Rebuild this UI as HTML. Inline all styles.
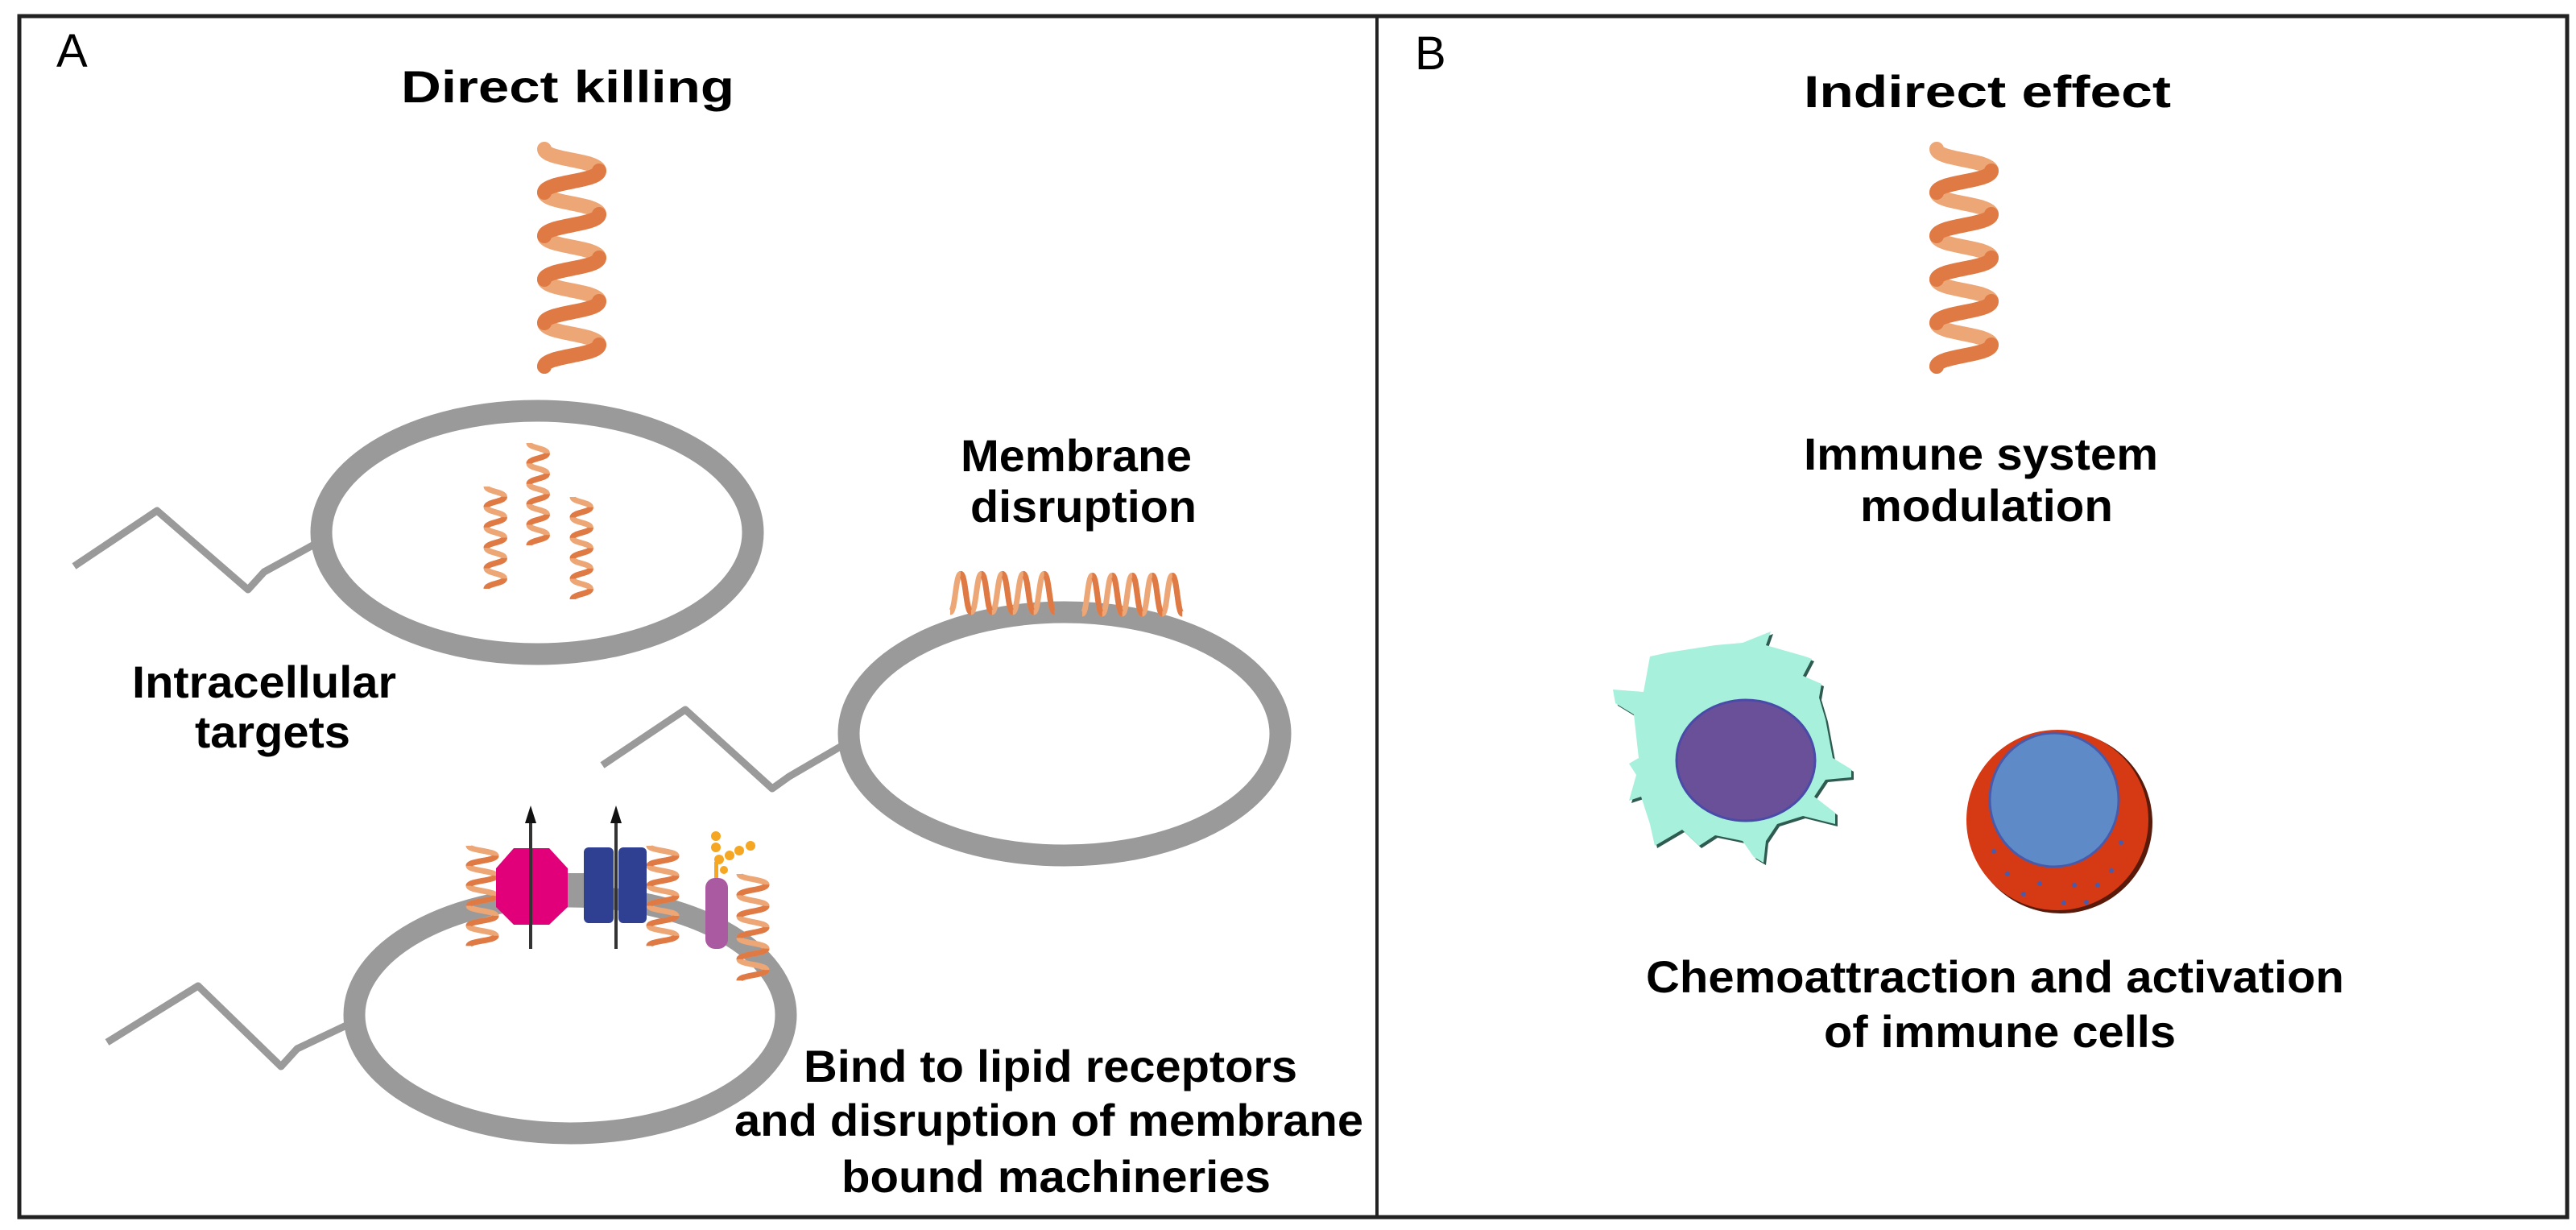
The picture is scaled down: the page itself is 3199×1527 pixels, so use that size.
<!DOCTYPE html>
<html><head><meta charset="utf-8"><style>
html,body{margin:0;padding:0;background:#fff}
svg{display:block}
text{font-family:"Liberation Sans",Arial,sans-serif;fill:#000}
.b{font-weight:bold;font-size:56px}
</style></head><body>
<svg width="3199" height="1527" viewBox="0 0 3199 1527" xmlns="http://www.w3.org/2000/svg">
<defs>
<g id="hx">
<path d="M0,0 c0,13.5 68,13.5 68,27 s-68,13.5 -68,27 s68,13.5 68,27 s-68,13.5 -68,27 s68,13.5 68,27 s-68,13.5 -68,27 s68,13.5 68,27 s-68,13.5 -68,27 s68,13.5 68,27 s-68,13.5 -68,27" fill="none" stroke="#eda676" stroke-width="18" vector-effect="non-scaling-stroke" stroke-linecap="round"/>
<path d="M68,27 c0,13.5 -68,13.5 -68,27 M68,81 c0,13.5 -68,13.5 -68,27 M68,135 c0,13.5 -68,13.5 -68,27 M68,189 c0,13.5 -68,13.5 -68,27 M68,243 c0,13.5 -68,13.5 -68,27" fill="none" stroke="#e07a45" stroke-width="18" vector-effect="non-scaling-stroke" stroke-linecap="round"/>
</g>
<g id="hs">
<path d="M0,0 c0,13.5 68,13.5 68,27 s-68,13.5 -68,27 s68,13.5 68,27 s-68,13.5 -68,27 s68,13.5 68,27 s-68,13.5 -68,27 s68,13.5 68,27 s-68,13.5 -68,27 s68,13.5 68,27 s-68,13.5 -68,27" fill="none" stroke="#eda676" stroke-width="7" vector-effect="non-scaling-stroke"/>
<path d="M68,27 c0,13.5 -68,13.5 -68,27 M68,81 c0,13.5 -68,13.5 -68,27 M68,135 c0,13.5 -68,13.5 -68,27 M68,189 c0,13.5 -68,13.5 -68,27 M68,243 c0,13.5 -68,13.5 -68,27" fill="none" stroke="#e07a45" stroke-width="7" vector-effect="non-scaling-stroke"/>
</g>
</defs>

<rect x="24" y="20" width="3164" height="1491" fill="none" stroke="#222" stroke-width="5"/>
<line x1="1710" y1="20" x2="1710" y2="1511" stroke="#222" stroke-width="4"/>

<text x="70" y="83" font-size="58">A</text>
<text x="1757" y="86" font-size="58">B</text>
<text class="b" x="498" y="127" textLength="414" lengthAdjust="spacingAndGlyphs" font-size="60">Direct killing</text>
<text class="b" x="2240" y="133" textLength="456" lengthAdjust="spacingAndGlyphs" font-size="60">Indirect effect</text>

<use href="#hx" transform="translate(676,185)"/>
<use href="#hx" transform="translate(2405,185)"/>

<path d="M92,703 L195,634 L308,732 L328,710 L392,675" fill="none" stroke="#9a9a9a" stroke-width="9" stroke-linejoin="round"/>
<ellipse cx="667" cy="661" rx="268" ry="151" fill="none" stroke="#9a9a9a" stroke-width="27"/>
<use href="#hs" transform="translate(604,604) scale(0.33,0.47)"/>
<use href="#hs" transform="translate(657,550) scale(0.33,0.47)"/>
<use href="#hs" transform="translate(711,617) scale(0.33,0.47)"/>

<path d="M748,950 L851,881 L959,979 L980,964 L1047,925" fill="none" stroke="#9a9a9a" stroke-width="9" stroke-linejoin="round"/>
<ellipse cx="1322" cy="911" rx="268" ry="151" fill="none" stroke="#9a9a9a" stroke-width="27"/>
<use href="#hs" transform="translate(1180,760) rotate(-90) scale(0.7,0.48)"/>
<use href="#hs" transform="translate(1344,762) rotate(-90) scale(0.7,0.46)"/>

<path d="M133,1294 L246,1224 L349,1324 L369,1302 L430,1273" fill="none" stroke="#9a9a9a" stroke-width="9" stroke-linejoin="round"/>
<ellipse cx="708" cy="1260" rx="268" ry="147" fill="none" stroke="#9a9a9a" stroke-width="27"/>
<rect x="700" y="1084" width="30" height="26" fill="#9a9a9a"/>
<use href="#hs" transform="translate(582,1050) scale(0.5,0.46)"/>
<use href="#hs" transform="translate(806,1050) scale(0.5,0.46)"/>
<use href="#hs" transform="translate(918,1085) scale(0.5,0.49)"/>
<polygon points="638,1053 682,1053 705,1078 705,1126 682,1148 638,1148 616,1126 616,1078" fill="#e2007a"/>
<rect x="725" y="1052" width="37" height="94" rx="6" fill="#2f3f92"/>
<rect x="768" y="1052" width="35" height="94" rx="6" fill="#2f3f92"/>
<rect x="876" y="1090" width="28" height="88" rx="12" fill="#a95aa0"/>
<g fill="#f5a623">
<rect x="887" y="1070" width="5" height="20"/>
<circle cx="889" cy="1038" r="6"/><circle cx="889" cy="1052" r="6"/><circle cx="893" cy="1067" r="6"/>
<circle cx="906" cy="1062" r="6"/><circle cx="918" cy="1056" r="6"/><circle cx="932" cy="1050" r="6"/><circle cx="899" cy="1080" r="5"/>
</g>
<g stroke="#333" stroke-width="4">
<line x1="659" y1="1178" x2="659" y2="1015"/>
<line x1="765" y1="1178" x2="765" y2="1015"/>
</g>
<polygon points="659,1000 652,1022 666,1022" fill="#111"/>
<polygon points="765,1000 758,1022 772,1022" fill="#111"/>

<text class="b" x="1193" y="585" textLength="287" lengthAdjust="spacingAndGlyphs">Membrane</text>
<text class="b" x="1205" y="648" textLength="281" lengthAdjust="spacingAndGlyphs">disruption</text>
<text class="b" x="164" y="866" textLength="328" lengthAdjust="spacingAndGlyphs">Intracellular</text>
<text class="b" x="242" y="928" textLength="193" lengthAdjust="spacingAndGlyphs">targets</text>
<text class="b" x="998" y="1343" textLength="613" lengthAdjust="spacingAndGlyphs">Bind to lipid receptors</text>
<text class="b" x="912" y="1410" textLength="781" lengthAdjust="spacingAndGlyphs">and disruption of membrane</text>
<text class="b" x="1045" y="1480" textLength="533" lengthAdjust="spacingAndGlyphs">bound machineries</text>

<text class="b" x="2240" y="583" textLength="440" lengthAdjust="spacingAndGlyphs">Immune system</text>
<text class="b" x="2310" y="647" textLength="314" lengthAdjust="spacingAndGlyphs">modulation</text>
<text class="b" x="2044" y="1232" textLength="867" lengthAdjust="spacingAndGlyphs">Chemoattraction and activation</text>
<text class="b" x="2265" y="1300" textLength="437" lengthAdjust="spacingAndGlyphs">of immune cells</text>

<g>
<path transform="translate(3,3)" d="M2199,784 L2193,801 L2242,815 L2250,818 L2239,839 L2262,849 L2259,866 L2267,893 L2276,941 L2299,955 L2299,965 L2267,968 L2253,989 L2279,1009 L2279,1023 L2239,1013 L2207,1023 L2193,1044 L2190,1071 L2178,1064 L2164,1044 L2130,1037 L2110,1050 L2089,1030 L2055,1050 L2049,1023 L2038,989 L2023,994 L2032,962 L2023,948 L2035,941 L2029,887 L2006,873 L2003,856 L2041,859 L2049,815 L2072,810 L2130,801 L2164,798 Z" fill="#2e5a50"/>
<path d="M2199,784 L2193,801 L2242,815 L2250,818 L2239,839 L2262,849 L2259,866 L2267,893 L2276,941 L2299,955 L2299,965 L2267,968 L2253,989 L2279,1009 L2279,1023 L2239,1013 L2207,1023 L2193,1044 L2190,1071 L2178,1064 L2164,1044 L2130,1037 L2110,1050 L2089,1030 L2055,1050 L2049,1023 L2038,989 L2023,994 L2032,962 L2023,948 L2035,941 L2029,887 L2006,873 L2003,856 L2041,859 L2049,815 L2072,810 L2130,801 L2164,798 Z" fill="#a6f0dc"/>
</g>
<ellipse cx="2168" cy="944" rx="86" ry="75" fill="#6a5099" stroke="#4a4aa8" stroke-width="3"/>

<ellipse cx="2559" cy="1021" rx="114" ry="113" fill="#5a1a0a"/>
<ellipse cx="2555" cy="1018" rx="113" ry="112" fill="#d63a14"/>
<ellipse cx="2551" cy="993" rx="80" ry="83" fill="#5e8bc8" stroke="#4a5aaa" stroke-width="3"/>
<g fill="#4a5aaa">
<circle cx="2476" cy="1057" r="3"/><circle cx="2493" cy="1085" r="3"/><circle cx="2533" cy="1097" r="3"/>
<circle cx="2576" cy="1099" r="3"/><circle cx="2605" cy="1099" r="3"/><circle cx="2622" cy="1081" r="3"/>
<circle cx="2634" cy="1046" r="3"/><circle cx="2513" cy="1110" r="3"/><circle cx="2563" cy="1121" r="3"/><circle cx="2591" cy="1120" r="3"/>
</g>
</svg>
</body></html>
